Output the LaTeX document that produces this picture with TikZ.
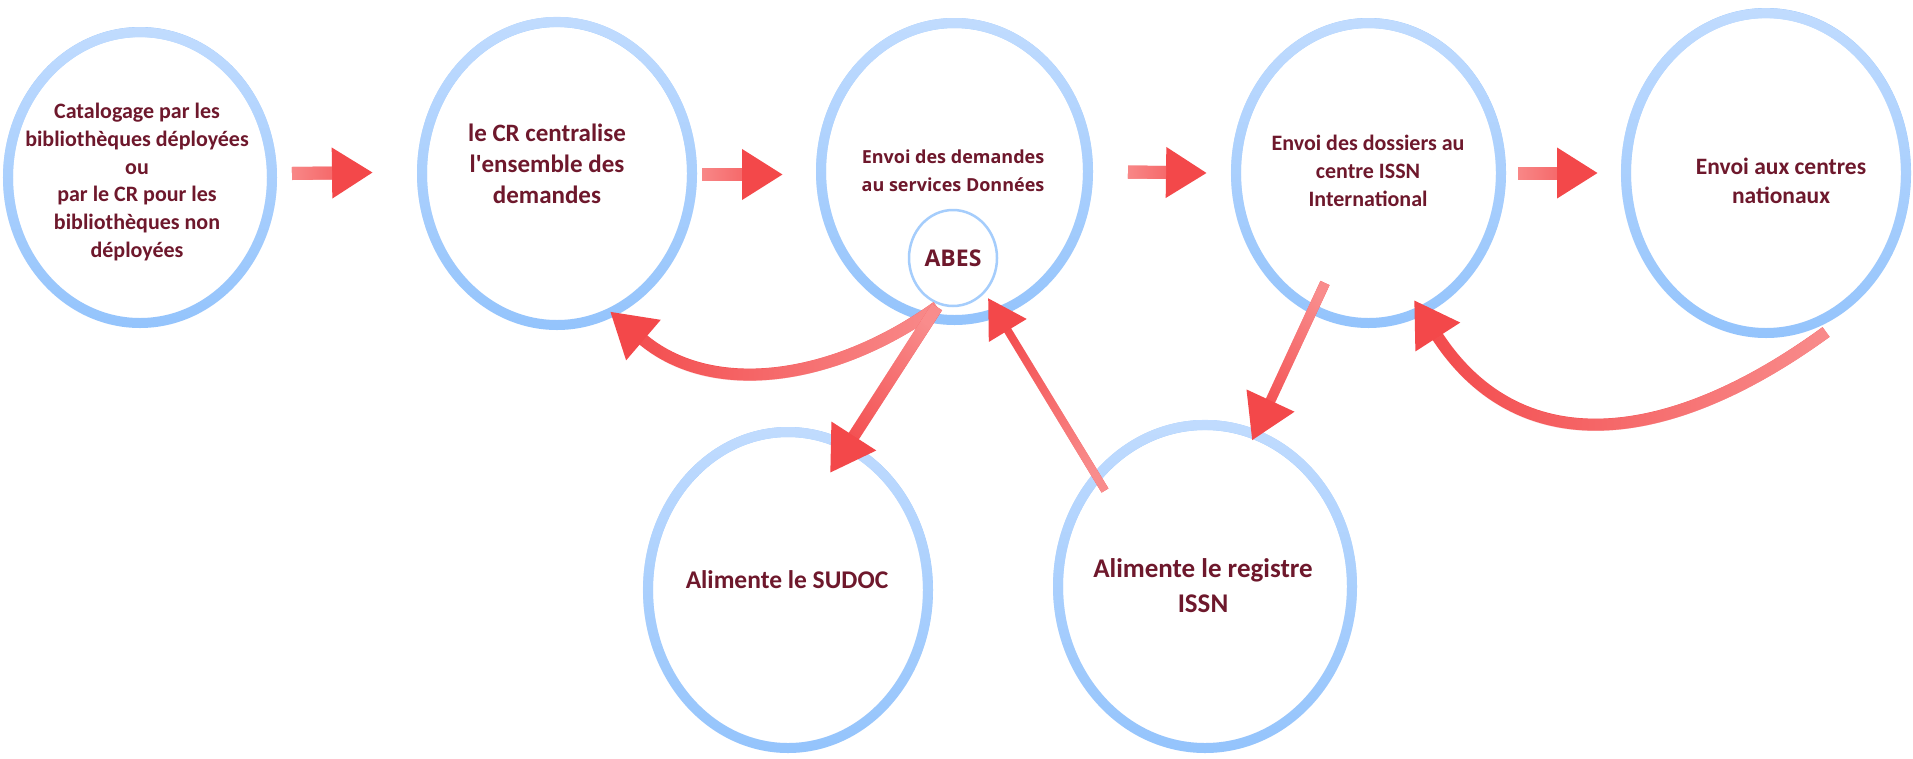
\documentclass[tikz,border=0pt]{standalone}
\usepackage{fontspec}
\newfontfamily\carl{Carlito}
\newfontfamily\osans{Open Sans}
\usetikzlibrary{arrows.meta,shapes.geometric,calc,fadings}
\definecolor{ringtop}{RGB}{193,220,255}
\definecolor{ringbot}{RGB}{148,196,252}
\definecolor{abesring}{RGB}{165,205,252}
\definecolor{txt}{RGB}{110,24,44}
\definecolor{arrred}{RGB}{243,72,74}
\definecolor{arrlight}{RGB}{249,140,140}
\tikzfading[name=topfade, top color=transparent!0, bottom color=transparent!100]
\tikzfading[name=fromtail, left color=transparent!0, right color=transparent!100]
\begin{document}
\begin{tikzpicture}[x=1pt,y=-1pt,
  ring/.style={ellipse, inner sep=0pt, draw=ringbot, line width=10pt,
     postaction={draw=ringtop, path fading=topfade}},
  lbl/.style={text=txt, align=center, inner sep=0pt},
  garrow/.style 2 args={draw=arrred,
     postaction={draw=arrlight, -, shorten >=#2, path fading=fromtail, fading angle=#1}},
  bigtip/.style={-{Triangle[length=44pt,width=50pt]}},
  hortip/.style={-{Triangle[length=41pt,width=48pt]}},
  smalltip/.style={-{Triangle[length=38pt,width=42pt]}}
]
\fill[white] (0,0) rectangle (1913,758);
\useasboundingbox (0,0) rectangle (1913,758);

% ellipses
\node[ring, minimum width=264pt, minimum height=291pt] (e1) at (140,177.5) {};
\node[ring, minimum width=270pt, minimum height=303pt] (e2) at (557,173.5) {};
\node[ring, minimum width=267pt, minimum height=297pt] (e3) at (954.5,171.5) {};
\node[ring, minimum width=265pt, minimum height=300pt] (e4) at (1368.5,173) {};
\node[ring, minimum width=280pt, minimum height=320pt] (e5) at (1766,173) {};
\node[ring, minimum width=280pt, minimum height=316pt] (e6) at (788,590) {};
\node[ring, minimum width=294pt, minimum height=323pt] (e7) at (1205,586.5) {};
\node[ellipse, inner sep=0pt, draw=abesring, line width=2.5pt, minimum width=88pt, minimum height=96pt,
      text=txt, font=\osans\bfseries\fontsize{23}{28}\selectfont] (abes) at (953,258) {ABES};

% texts
\node[lbl, font=\carl\bfseries\fontsize{22}{27.8}\selectfont] (t1) at (137,182)
  {Catalogage par les\\bibliothèques déployées\\ou\\par le CR pour les\\bibliothèques non\\déployées};
\node[lbl, font=\carl\bfseries\fontsize{25}{31}\selectfont] (t2) at (547,164)
  {le CR centralise\\l'ensemble des\\demandes};
\node[lbl, font=\osans\bfseries\fontsize{18}{28}\selectfont] (t3) at (953,171)
  {Envoi des demandes\\au services Données};
\node[lbl, font=\carl\bfseries\fontsize{22}{28}\selectfont] (t4) at (1368,171)
  {Envoi des dossiers au\\centre ISSN\\International};
\node[lbl, font=\carl\bfseries\fontsize{23.5}{29}\selectfont] (t5) at (1781,180.5)
  {Envoi aux centres\\nationaux};
\node[lbl, font=\carl\bfseries\fontsize{25.5}{31}\selectfont] (t6) at (787,580)
  {Alimente le SUDOC};
\node[lbl, font=\carl\bfseries\fontsize{27}{35}\selectfont] (t7) at (1203,585.5)
  {Alimente le registre\\ISSN};

% horizontal arrows
\draw[garrow={0}{41pt}, hortip, line width=13pt] ($(e1.east)+(15,-4)$) -- ($(e2.west)+(-44,-1)$);
\draw[garrow={0}{41pt}, hortip, line width=13pt] ($(e2.east)+(5,1)$) -- ($(e3.west)+(-33,3)$);
\draw[garrow={0}{41pt}, hortip, line width=13pt] ($(e3.east)+(35,0.5)$) -- ($(e4.west)+(-24,0)$);
\draw[garrow={0}{41pt}, hortip, line width=13pt] ($(e4.east)+(12,0)$) -- ($(e5.west)+(-23,0)$);

% curved arrows
\draw[garrow={180}{44pt}, bigtip, line width=12pt]
  ($(abes.center)+(-16,49)$) .. controls ($(abes.center)+(-122,125)$) and ($(e2.center)+(153,223.5)$) .. ($(e2.center)+(53,138)$);
\draw[garrow={180}{44pt}, bigtip, line width=12pt]
  ($(e5.center)+(60,159)$) .. controls ($(e5.center)+(-102,277)$) and ($(e4.center)+(148.5,287)$) .. ($(e4.center)+(45.5,127)$);

% straight diagonal arrows
\draw[garrow={237}{44pt}, bigtip, line width=12pt] ($(abes.center)+(-16,49)$) -- ($(e6.center)+(42,-117)$);
\draw[garrow={121}{38pt}, smalltip, line width=8pt] ($(e7.center)+(-100,-96)$) -- ($(abes.center)+(35,40)$);
\draw[garrow={245}{44pt}, bigtip, line width=10pt] ($(e4.center)+(-43.5,110)$) -- ($(e7.center)+(47,-146)$);
\end{tikzpicture}
\end{document}
